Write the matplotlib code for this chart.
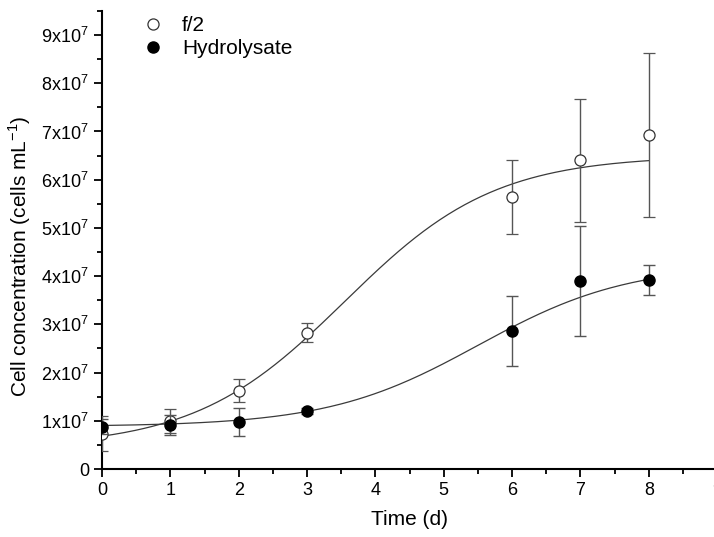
import matplotlib.pyplot as plt
from matplotlib.ticker import MultipleLocator, FuncFormatter
import numpy as np

# --- Data ---
days = [0, 1, 2, 3, 6, 7, 8]
f2_mean = [0.73e7, 1.0e7, 1.62e7, 2.83e7, 5.64e7, 6.40e7, 6.93e7]
f2_err = [0.36e7, 0.25e7, 0.24e7, 0.19e7, 0.76e7, 1.27e7, 1.70e7]
hyd_mean = [0.88e7, 0.91e7, 0.97e7, 1.21e7, 2.86e7, 3.90e7, 3.92e7]
hyd_err = [0.15e7, 0.20e7, 0.29e7, 0.06e7, 0.73e7, 1.14e7, 0.32e7]

# Boltzmann fit parameters (A1, A2, x0, dx)
f2_fit = (0.45e7, 6.5e7, 3.55, 1.1)
hyd_fit = (0.88e7, 4.25e7, 5.5, 1.1)

x_ticks = [0, 1, 2, 3, 4, 5, 6, 7, 8, 9]
y_ticks = [0, 1e7, 2e7, 3e7, 4e7, 5e7, 6e7, 7e7, 8e7, 9e7]


def boltzmann(x, a1, a2, x0, dx):
    return a2 + (a1 - a2) / (1 + np.exp((x - x0) / dx))


plt.rcParams["font.family"] = ["Liberation Sans", "DejaVu Sans"]
plt.rcParams["mathtext.fontset"] = "custom"
plt.rcParams["mathtext.rm"] = "Liberation Sans"

fig = plt.figure(figsize=(7.14, 5.37), dpi=100)
ax = fig.add_axes([0.143, 0.1266, 0.8614, 0.853])

xs = np.linspace(0, 8, 200)
curve_col = "#3a3a3a"
err_col = "#555555"
ax.plot(xs, boltzmann(xs, *f2_fit), color=curve_col, lw=0.9, zorder=2)
ax.plot(xs, boltzmann(xs, *hyd_fit), color=curve_col, lw=0.9, zorder=2)

ax.errorbar(days, f2_mean, yerr=f2_err, fmt="o", ms=8, mfc="white",
            mec="#333333", mew=0.9, ecolor=err_col, elinewidth=1.0,
            capsize=4, capthick=1.0, label="f/2", zorder=3)
ax.errorbar(days, hyd_mean, yerr=hyd_err, fmt="o", ms=8, mfc="black",
            mec="black", ecolor=err_col, elinewidth=1.0,
            capsize=4, capthick=1.0, label="Hydrolysate", zorder=4)

ax.set_xlim(0, 9)
ax.set_ylim(0, 9.5e7)
ax.set_xticks(x_ticks)
ax.set_yticks(y_ticks)
ax.xaxis.set_minor_locator(MultipleLocator(0.5))
ax.yaxis.set_minor_locator(MultipleLocator(0.5e7))


def y_fmt(v, pos):
    n = int(round(v / 1e7))
    if n == 0:
        return "0"
    return f"{n}x10$^{{7}}$"


ax.yaxis.set_major_formatter(FuncFormatter(y_fmt))
ax.tick_params(which="major", direction="out", length=6, width=1.3, labelsize=13)
ax.tick_params(which="minor", direction="out", length=3.5, width=1.3)

for side in ["top", "right"]:
    ax.spines[side].set_visible(False)
for side in ["left", "bottom"]:
    ax.spines[side].set_linewidth(1.5)

ax.set_xlabel("Time (d)", fontsize=15, labelpad=8)
ax.set_ylabel("Cell concentration (cells mL$^{-1}$)", fontsize=15)
ax.yaxis.set_label_coords(-0.113, 0.465)

handles, labels = ax.get_legend_handles_labels()
handles = [h[0] for h in handles]
ax.legend(handles, labels, loc="upper left", bbox_to_anchor=(0.032, 1.03),
          frameon=False, fontsize=15, handletextpad=0.8, labelspacing=0.2,
          handlelength=1.2)

fig.savefig("out.png", dpi=100)
